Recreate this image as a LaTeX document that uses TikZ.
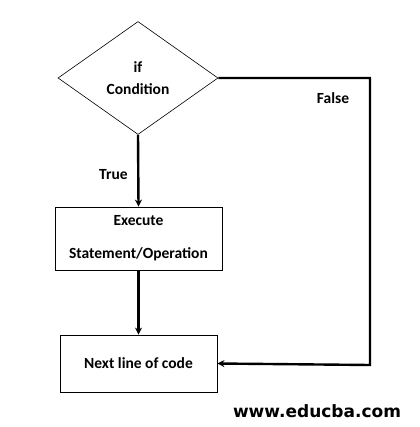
\documentclass[tikz,border=0pt]{standalone}
\usepackage{fontspec}
\setmainfont{Carlito}
\newfontfamily\markfont{DejaVu Sans}
\usetikzlibrary{shapes.geometric,arrows.meta}

\begin{document}
\begin{tikzpicture}[x=1pt,y=-1pt,
    every node/.style={font=\fontsize{15.5}{17}\selectfont\bfseries},
    decision/.style={draw,diamond,line width=0.6pt,minimum width=160pt,minimum height=113pt,inner sep=0pt,align=center},
    stepbox/.style={draw,rectangle,line width=0.8pt,inner sep=0pt,align=center},
    flow/.style={line width=2.4pt,-{Stealth[length=7pt,width=7pt]}}]
  \useasboundingbox (0,0) rectangle (419,427);

  \node[decision] (cond) at (138,78) {if\\[5pt]Condition};
  \node[stepbox,minimum width=167pt,minimum height=63pt] (exec) at (138.5,238.5) {Execute\\[16pt]Statement/Operation};
  \node[stepbox,minimum width=157pt,minimum height=57pt] (next) at (138.5,363.5) {Next line of code};
  \coordinate (fc) at (370,365);

  \draw[flow] (cond.south) -- node[left=6pt,pos=0.55] {True} (exec.north);
  \draw[flow] (exec.south) -- (next.north);
  \draw[flow] (cond.east) -| (fc) -- (next.east);
  \node (lfalse) at (333,98) {False};

  \node[font=\markfont\fontsize{17}{19}\selectfont\bfseries] (mark) at (317,411) {www.educba.com};
\end{tikzpicture}
\end{document}
